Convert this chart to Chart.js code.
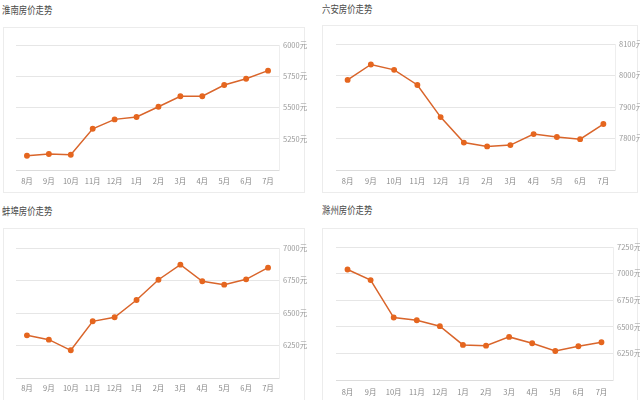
<!DOCTYPE html>
<html><head><meta charset="utf-8">
<script src="https://cdn.jsdelivr.net/npm/chart.js@4"></script>
<style>
html,body{margin:0;padding:0;background:#fff;width:640px;height:400px;overflow:hidden;font-family:"Noto Sans CJK SC",sans-serif;}
.card{position:absolute;border:1px solid #ececec;box-sizing:border-box;}
.title{position:absolute;font-size:10.5px;color:#4a4a4a;transform:scaleX(0.8);transform-origin:left center;white-space:nowrap;line-height:12px;}
canvas{position:absolute;}
</style></head><body>
<div class="card" style="left:3px;top:27px;width:302px;height:166px"></div>
<div class="card" style="left:322px;top:25px;width:316px;height:168px"></div>
<div class="card" style="left:3px;top:228px;width:302px;height:180px"></div>
<div class="card" style="left:322px;top:228px;width:316px;height:180px"></div>
<div class="title" style="left:2px;top:4px">淮南房价走势</div>
<div class="title" style="left:322px;top:3px">六安房价走势</div>
<div class="title" style="left:2px;top:205px">蚌埠房价走势</div>
<div class="title" style="left:322px;top:204px">滁州房价走势</div>
<canvas id="c1" width="320" height="200" style="left:0;top:0"></canvas>
<canvas id="c2" width="320" height="200" style="left:320px;top:0"></canvas>
<canvas id="c3" width="320" height="200" style="left:0;top:200px"></canvas>
<canvas id="c4" width="320" height="200" style="left:320px;top:200px"></canvas>
<script>
const months = ['8月','9月','10月','11月','12月','1月','2月','3月','4月','5月','6月','7月'];
const huainan = [5114,5128,5122,5330,5405,5424,5506,5590,5590,5680,5730,5795];
const luan = [7986,8035,8018,7970,7868,7787,7775,7779,7814,7805,7798,7846];
const bengbu = [6328,6295,6213,6436,6467,6600,6756,6872,6744,6718,6759,6849];
const chuzhou = [7039,6939,6587,6562,6506,6330,6323,6405,6345,6273,6317,6355];

const FONT = '"Noto Sans CJK SC", sans-serif';

function make(id, data, min, max, step, pad, yWidth, xHeight, xPad) {
  new Chart(document.getElementById(id), {
    type: 'line',
    data: { labels: months, datasets: [{
      data: data,
      borderColor: '#d9652b',
      backgroundColor: '#e5661f',
      pointBackgroundColor: '#e5661f',
      pointBorderColor: '#e5661f',
      pointRadius: 2.2,
      borderWidth: 1.5,
      tension: 0,
      fill: false
    }]},
    options: {
      responsive: false,
      animation: false,
      devicePixelRatio: 1,
      layout: { padding: pad },
      plugins: { legend: { display: false }, tooltip: { enabled: false } },
      scales: {
        x: {
          offset: true,
          grid: { display: false, drawTicks: false },
          border: { display: true, color: '#dcdcdc' },
          ticks: { color: '#888', font: { family: FONT, size: 7.5 }, padding: xPad, maxRotation: 0, autoSkip: false },
          afterFit: s => { s.height = xHeight; }
        },
        y: {
          position: 'right',
          min: min, max: max,
          grid: { color: '#e6e6e6', drawTicks: false },
          border: { display: true, color: '#eeeeee' },
          ticks: {
            stepSize: step,
            color: '#999',
            padding: 4,
            font: { family: FONT, size: 7.5 },
            callback: v => v === min ? '' : v + '元'
          },
          afterFit: s => { s.width = yWidth; }
        }
      }
    }
  });
}

make('c1', huainan, 5000, 6000, 250, {left:16, top:45, right:3, bottom:8}, 38, 22, 7);
make('c2', luan, 7700, 8100, 100, {left:16, top:44, right:0, bottom:8}, 25, 22, 7);
make('c3', bengbu, 6000, 7000, 250, {left:16, top:48, right:3, bottom:0}, 38, 22, 6);
make('c4', chuzhou, 6000, 7250, 250, {left:16, top:47, right:0, bottom:0}, 27, 20, 8);
</script>
</body></html>
